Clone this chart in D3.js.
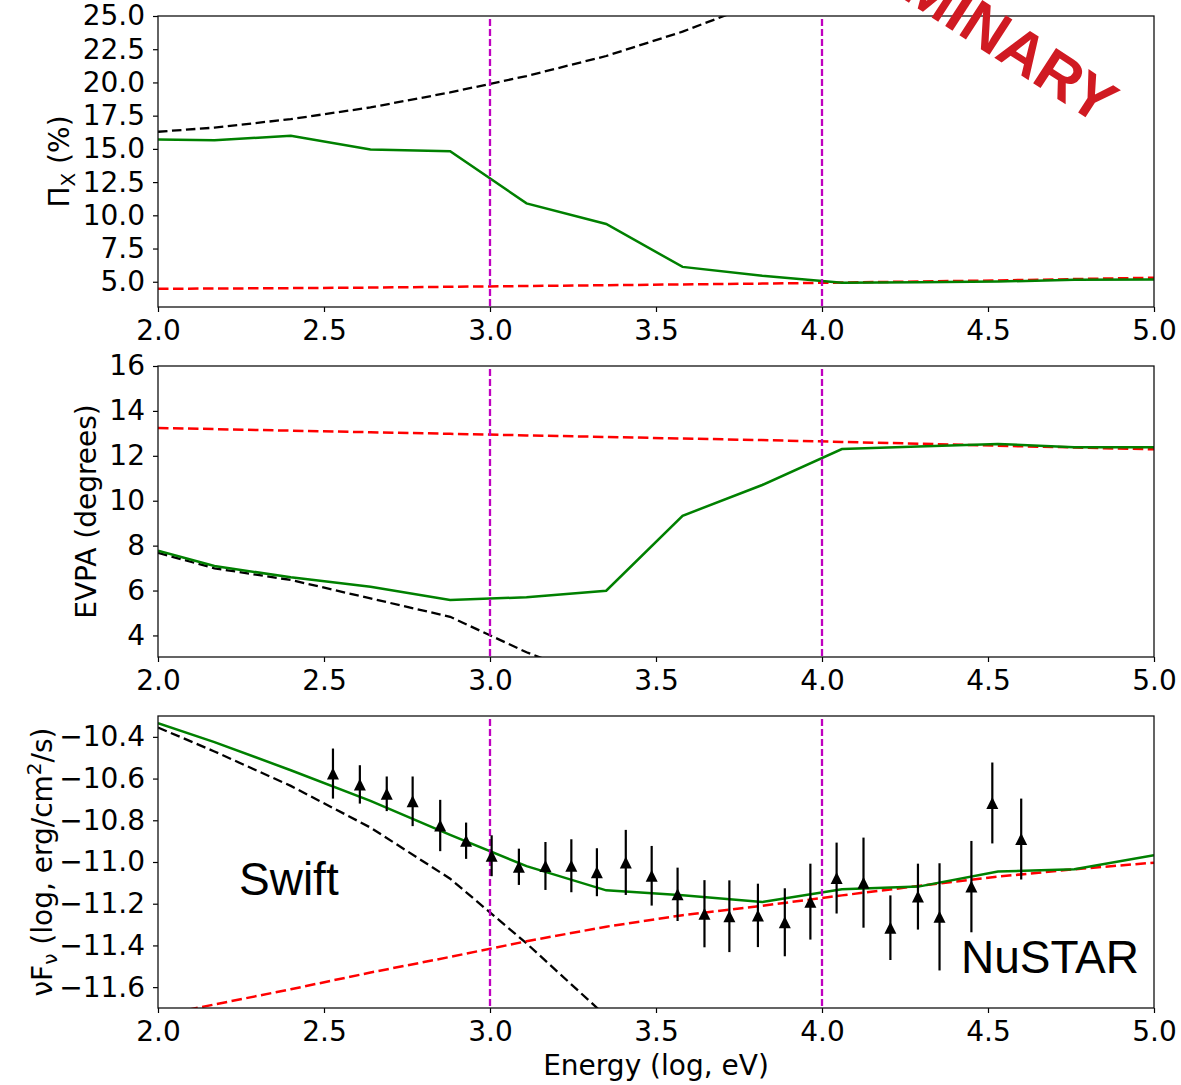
<!DOCTYPE html>
<html>
<head>
<meta charset="utf-8">
<script src="https://cdn.jsdelivr.net/npm/d3@7"></script>
<style>
  html, body { margin: 0; padding: 0; background: #fff; }
  svg { display: block; }
  .tick text { font-family: "DejaVu Sans", sans-serif; font-size: 28px; fill: #000; }
</style>
</head>
<body>
<svg id="chart" width="1181" height="1085"></svg>
<script>
// Model energy grid (log10 eV)
const gridE = [2.0, 2.17, 2.40, 2.64, 2.88, 3.11, 3.35, 3.58, 3.82, 4.06, 4.29, 4.53, 4.76, 5.0];

// Polarisation degree (%)
const piTotal = [15.7, 15.65, 15.99, 14.96, 14.83, 10.9, 9.35, 6.12, 5.45, 4.93, 4.97, 5.01, 5.16, 5.17];
const piHigh  = [4.47, 4.49, 4.52, 4.56, 4.62, 4.68, 4.74, 4.80, 4.86, 4.94, 5.02, 5.10, 5.20, 5.30];
const piLowE  = [2.0, 2.17, 2.40, 2.64, 2.88, 3.11, 3.35, 3.58, 3.82];
const piLow   = [16.29, 16.6, 17.24, 18.12, 19.25, 20.48, 21.99, 23.82, 26.1];

// Polarisation angle (degrees)
const evpaTotal = [7.77, 7.09, 6.59, 6.17, 5.58, 5.70, 5.99, 9.33, 10.70, 12.30, 12.42, 12.53, 12.38, 12.38];
const evpaHigh  = [13.24, 13.19, 13.12, 13.05, 12.98, 12.91, 12.84, 12.77, 12.70, 12.62, 12.54, 12.45, 12.37, 12.29];
const evpaLowE  = [2.0, 2.17, 2.40, 2.64, 2.88, 3.11, 3.35];
const evpaLow   = [7.68, 6.99, 6.47, 5.65, 4.83, 3.25, 1.9];

// Spectral energy distribution, log nuFnu
const sedTotal = [-10.334, -10.425, -10.56, -10.707, -10.87, -11.02, -11.136, -11.16, -11.192, -11.131, -11.118, -11.046, -11.035, -10.968];
const sedHigh  = [-11.737, -11.683, -11.61, -11.53, -11.455, -11.38, -11.31, -11.255, -11.21, -11.16, -11.115, -11.07, -11.035, -11.003];
const sedLowE  = [2.0, 2.17, 2.40, 2.64, 2.88, 3.11, 3.35];
const sedLow   = [-10.355, -10.47, -10.635, -10.835, -11.08, -11.39, -11.74];

// X-ray flux measurements (Swift + NuSTAR)
const obsE   = [2.527, 2.608, 2.689, 2.767, 2.850, 2.928, 3.005, 3.087, 3.167, 3.245, 3.322, 3.409, 3.487, 3.565,
                3.646, 3.721, 3.807, 3.888, 3.965, 4.044, 4.125, 4.206, 4.289, 4.354, 4.450, 4.513, 4.600];
const obsF   = [-10.576, -10.628, -10.673, -10.709, -10.825, -10.898, -10.970, -11.023, -11.019, -11.018, -11.049, -11.002, -11.066, -11.155,
                -11.248, -11.260, -11.256, -11.289, -11.190, -11.077, -11.099, -11.315, -11.166, -11.263, -11.118, -10.717, -10.890];
const obsErr = [0.120, 0.092, 0.083, 0.119, 0.123, 0.087, 0.098, 0.087, 0.115, 0.127, 0.115, 0.156, 0.143, 0.128,
                0.161, 0.172, 0.152, 0.163, 0.182, 0.170, 0.216, 0.155, 0.158, 0.257, 0.219, 0.194, 0.194];

// Energy band boundaries
const bandEdges = [3.0, 4.0];

// Tick values
const xTicks = [2.0, 2.5, 3.0, 3.5, 4.0, 4.5, 5.0];
const piTicks = [5.0, 7.5, 10.0, 12.5, 15.0, 17.5, 20.0, 22.5, 25.0];
const evpaTicks = [4, 6, 8, 10, 12, 14, 16];
const sedTicks = [-11.6, -11.4, -11.2, -11.0, -10.8, -10.6, -10.4];

const svg = d3.select("#chart");
const x = d3.scaleLinear().domain([2, 5]).range([158, 1154]);

const COLORS = { total: "#008000", high: "#ff0000", low: "#000000", band: "#c000c0" };

function drawPanel(cfg) {
  const y = d3.scaleLinear().domain(cfg.domain).range([cfg.bottom, cfg.top]);
  const g = svg.append("g");
  const clipId = "clip-" + cfg.id;
  svg.append("clipPath").attr("id", clipId)
    .append("rect").attr("x", x.range()[0]).attr("y", cfg.top)
    .attr("width", x.range()[1] - x.range()[0]).attr("height", cfg.bottom - cfg.top);

  const plot = g.append("g").attr("clip-path", `url(#${clipId})`);
  const line = d3.line().x(d => x(d[0])).y(d => y(d[1]));

  const curves = [
    { e: cfg.lowE, v: cfg.low, color: COLORS.low, dash: "9.5,4.5", w: 2.3 },
    { e: gridE, v: cfg.high, color: COLORS.high, dash: "10.5,4.5", w: 2.5 },
    { e: gridE, v: cfg.total, color: COLORS.total, dash: null, w: 2.5 }
  ];
  curves.forEach(c => {
    plot.append("path")
      .datum(d3.zip(c.e, c.v))
      .attr("d", line)
      .attr("fill", "none")
      .attr("stroke", c.color)
      .attr("stroke-width", c.w)
      .attr("stroke-dasharray", c.dash);
  });

  plot.selectAll("line.band").data(bandEdges).enter().append("line")
    .attr("class", "band")
    .attr("x1", d => x(d)).attr("x2", d => x(d))
    .attr("y1", cfg.top + 3).attr("y2", cfg.bottom)
    .attr("stroke", COLORS.band).attr("stroke-width", 2.3)
    .attr("stroke-dasharray", "7,3");

  if (cfg.points) {
    const pts = d3.zip(obsE, obsF, obsErr);
    plot.selectAll("line.err").data(pts).enter().append("line")
      .attr("class", "err")
      .attr("x1", d => x(d[0])).attr("x2", d => x(d[0]))
      .attr("y1", d => y(d[1] - d[2])).attr("y2", d => y(d[1] + d[2]))
      .attr("stroke", "#000").attr("stroke-width", 2.2);
    const s = 12;
    plot.selectAll("path.tri").data(pts).enter().append("path")
      .attr("class", "tri")
      .attr("d", d => {
        const cx = x(d[0]), cy = y(d[1]);
        return `M${cx},${cy - s / 2}L${cx - s / 2},${cy + s / 2}L${cx + s / 2},${cy + s / 2}Z`;
      })
      .attr("fill", "#000");
  }

  // axes
  const xa = g.append("g").attr("transform", `translate(0,${cfg.bottom})`)
    .call(d3.axisBottom(x).tickValues(xTicks).tickFormat(d3.format(".1f"))
      .tickSize(5).tickSizeOuter(0).tickPadding(8));
  const ya = g.append("g").attr("transform", `translate(${x.range()[0]},0)`)
    .call(d3.axisLeft(y).tickValues(cfg.ticks).tickFormat(cfg.fmt)
      .tickSize(5).tickSizeOuter(0).tickPadding(8));
  [xa, ya].forEach(a => {
    a.select(".domain").remove();
    a.selectAll(".tick line").attr("stroke", "#000").attr("stroke-width", 1.2);
  });

  g.append("rect")
    .attr("x", x.range()[0]).attr("y", cfg.top)
    .attr("width", x.range()[1] - x.range()[0]).attr("height", cfg.bottom - cfg.top)
    .attr("fill", "none").attr("stroke", "#111").attr("stroke-width", 1.3);

  // y label
  const lab = g.append("text")
    .attr("transform", `translate(${cfg.labelX},${(cfg.top + cfg.bottom) / 2}) rotate(-90)`)
    .attr("text-anchor", "middle")
    .attr("font-family", "DejaVu Sans, sans-serif")
    .attr("font-size", 28);
  cfg.label(lab);
  return y;
}

drawPanel({
  id: "pi", top: 16, bottom: 307, domain: [3.1, 25], ticks: piTicks, fmt: d3.format(".1f"),
  total: piTotal, high: piHigh, low: piLow, lowE: piLowE, labelX: 69,
  label: t => {
    t.append("tspan").text("Π");
    t.append("tspan").attr("font-size", 20).attr("dy", 6).text("X");
    t.append("tspan").attr("dy", -6).text(" (%)");
  }
});

drawPanel({
  id: "evpa", top: 366, bottom: 657, domain: [3.04, 16], ticks: evpaTicks, fmt: d3.format("d"),
  total: evpaTotal, high: evpaHigh, low: evpaLow, lowE: evpaLowE, labelX: 96,
  label: t => t.text("EVPA (degrees)")
});

drawPanel({
  id: "sed", top: 716, bottom: 1008, domain: [-11.7, -10.3], ticks: sedTicks, fmt: d3.format(".1f"),
  total: sedTotal, high: sedHigh, low: sedLow, lowE: sedLowE, labelX: 52, points: true,
  label: t => {
    t.append("tspan").text("νF");
    t.append("tspan").attr("font-size", 20).attr("dy", 5).text("ν");
    t.append("tspan").attr("dy", -5).text(" (log, erg/cm");
    t.append("tspan").attr("font-size", 20).attr("dy", -11).text("2");
    t.append("tspan").attr("dy", 11).text("/s)");
  }
});

// x label
svg.append("text")
  .attr("x", (x.range()[0] + x.range()[1]) / 2).attr("y", 1075)
  .attr("text-anchor", "middle")
  .attr("font-family", "DejaVu Sans, sans-serif").attr("font-size", 28)
  .text("Energy (log, eV)");

// instrument annotations
svg.append("text").attr("x", 239).attr("y", 895)
  .attr("font-family", "Liberation Sans, Arial, sans-serif").attr("font-size", 46)
  .text("Swift");
svg.append("text").attr("x", 1139).attr("y", 973)
  .attr("text-anchor", "end")
  .attr("font-family", "Liberation Sans, Arial, sans-serif").attr("font-size", 46)
  .text("NuSTAR");

// watermark
svg.append("text")
  .attr("transform", "translate(1099,126) rotate(33)")
  .attr("text-anchor", "end")
  .attr("font-family", "Liberation Sans, Arial, sans-serif")
  .attr("font-weight", "bold").attr("font-size", 61)
  .attr("fill", "rgb(208,26,34)")
  .text("PRELIMINARY");
</script>
</body>
</html>
